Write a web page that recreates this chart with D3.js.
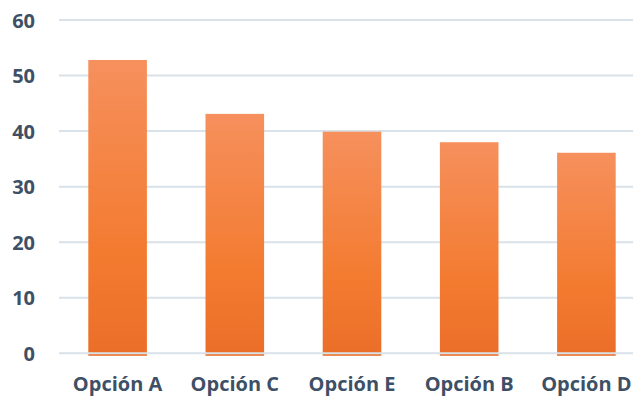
<!DOCTYPE html>
<html><head><meta charset="utf-8">
<script src="https://cdn.jsdelivr.net/npm/d3@7/dist/d3.min.js"></script>
<style>body{margin:0;background:#fff}svg{display:block}</style>
</head><body><svg id="c" width="633" height="398"></svg>
<script>
const categories = ["Opción A", "Opción C", "Opción E", "Opción B", "Opción D"];
const values = [52.8, 43.1, 39.9, 38.0, 36.1];
const yTicks = [0, 10, 20, 30, 40, 50, 60];

const svg = d3.select("#c");
const x = d3.scaleBand().domain(categories).range([59, 645]).paddingInner(0.5).paddingOuter(0.25);
const y = d3.scaleLinear().domain([0, 60]).range([353.3, 20]);
const font = "'Open Sans', 'Noto Sans', sans-serif";
const textColor = "#3e5066";

const defs = svg.append("defs");
const g = defs.append("linearGradient").attr("id", "bg").attr("x1", 0).attr("x2", 0).attr("y1", 0).attr("y2", 1);
g.append("stop").attr("offset", "0%").attr("stop-color", "#f6905d");
g.append("stop").attr("offset", "65%").attr("stop-color", "#f37b30");
g.append("stop").attr("offset", "100%").attr("stop-color", "#eb6e28");

// gridlines
svg.append("g").selectAll("line").data(yTicks.filter(d => d !== 0)).join("line")
  .attr("x1", 59).attr("x2", 633)
  .attr("y1", d => y(d)).attr("y2", d => y(d))
  .attr("stroke", "#d9e2e8").attr("stroke-width", 2);

// bars
svg.append("g").selectAll("rect").data(values).join("rect")
  .attr("x", (d, i) => x(categories[i]))
  .attr("width", x.bandwidth())
  .attr("y", d => y(d))
  .attr("height", d => y(0) - y(d) + 2.5)
  .attr("fill", "url(#bg)");

// zero line over bars
svg.append("line").attr("x1", 59).attr("x2", 633).attr("y1", y(0)).attr("y2", y(0))
  .attr("stroke", "#d9e2e8").attr("stroke-width", 2);

// y axis labels
const yAxis = d3.axisLeft(y).tickValues(yTicks).tickSize(0).tickPadding(0);
const ya = svg.append("g").attr("transform", "translate(35,0)").call(yAxis);
ya.select(".domain").remove();
ya.selectAll("text").attr("font-family", font).attr("font-weight", 700).attr("font-size", 20)
  .attr("fill", textColor).attr("dy", "0.36em");

// x axis labels
const xAxis = d3.axisBottom(x).tickSize(0).tickPadding(0);
const xa = svg.append("g").attr("transform", "translate(0,377)").call(xAxis);
xa.select(".domain").remove();
xa.selectAll("text").attr("font-family", font).attr("font-weight", 700).attr("font-size", 20)
  .attr("fill", textColor).attr("dy", "0.71em");
</script></body></html>
